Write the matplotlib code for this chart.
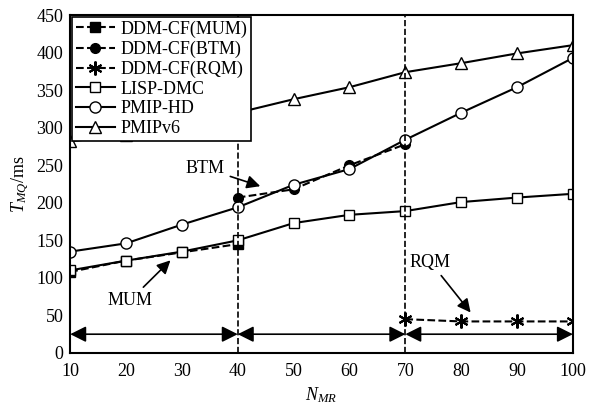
import matplotlib
matplotlib.use("Agg")
import matplotlib.pyplot as plt

plt.rcParams['font.family'] = ['Liberation Serif', 'DejaVu Serif']
plt.rcParams['mathtext.fontset'] = 'custom'
plt.rcParams['mathtext.it'] = 'Liberation Serif:italic'
plt.rcParams['mathtext.rm'] = 'Liberation Serif'

x_all = [10, 20, 30, 40, 50, 60, 70, 80, 90, 100]
pmipv6 = [282, 290, 300, 320, 338, 354, 374, 386, 399, 410]
pmip_hd = [135, 146, 171, 194, 224, 245, 284, 320, 354, 393]
lisp_dmc = [110, 123, 135, 150, 173, 184, 189, 201, 207, 212]
x_mum = [10, 20, 30, 40]
mum = [108, 123, 134, 145]
x_btm = [40, 50, 60, 70]
btm = [207, 218, 250, 278]
x_rqm = [70, 80, 90, 100]
rqm = [45, 42, 42, 42]
phase_edges = [10, 40, 70, 100]

fig, ax = plt.subplots(figsize=(5.9, 4.09), dpi=100)
fig.subplots_adjust(left=0.119, right=0.971, top=0.963, bottom=0.137)

ax.plot(x_mum, mum, 'k--s', ms=7, label='DDM-CF(MUM)')
ax.plot(x_btm, btm, 'k--o', ms=7, label='DDM-CF(BTM)')
ax.plot(x_rqm, rqm, 'k--', marker=(6, 2, 0), ms=10, mew=1.5, label='DDM-CF(RQM)')
ax.plot(x_all, lisp_dmc, 'k-s', ms=7, mfc='white', label='LISP-DMC')
ax.plot(x_all, pmip_hd, 'k-o', ms=8, mfc='white', label='PMIP-HD')
ax.plot(x_all, pmipv6, 'k-^', ms=9, mfc='white', label='PMIPv6')

for xv in phase_edges[1:3]:
    ax.axvline(xv, color='k', ls='--', lw=1.2)
for a, b in zip(phase_edges[:-1], phase_edges[1:]):
    ax.annotate('', xy=(a, 25), xytext=(b, 25),
                arrowprops=dict(arrowstyle='<|-|>', color='k', lw=1.2,
                                mutation_scale=24, shrinkA=0, shrinkB=0))

ax.annotate('BTM', xy=(44.5, 221), xytext=(34.2, 246), fontsize=13,
            ha='center', va='center',
            arrowprops=dict(arrowstyle='-|>', color='k', lw=1.2, mutation_scale=20))
ax.annotate('MUM', xy=(28.3, 126), xytext=(20.7, 70), fontsize=13,
            ha='center', va='center',
            arrowprops=dict(arrowstyle='-|>', color='k', lw=1.2, mutation_scale=20))
ax.annotate('RQM', xy=(82, 51), xytext=(74.5, 121), fontsize=13,
            ha='center', va='center',
            arrowprops=dict(arrowstyle='-|>', color='k', lw=1.2, mutation_scale=20))

ax.set_xlim(10, 100)
ax.set_ylim(0, 450)
ax.set_xticks(range(10, 101, 10))
ax.set_yticks(range(0, 451, 50))
ax.tick_params(direction='in', labelsize=13, length=0)
ax.tick_params(axis='x', pad=7)
ax.tick_params(axis='y', pad=5)
for s in ax.spines.values():
    s.set_linewidth(1.5)

ax.set_xlabel('$N_{MR}$', fontsize=13)
ax.set_ylabel('$T_{MQ}$/ms', fontsize=13)

leg = ax.legend(loc='upper left', fontsize=13, handlelength=2.2, borderaxespad=0.1,
                labelspacing=0.15, handletextpad=0.3, borderpad=0.2,
                fancybox=False, framealpha=1, edgecolor='k')
leg.get_frame().set_linewidth(1.2)

fig.savefig('out.png')
